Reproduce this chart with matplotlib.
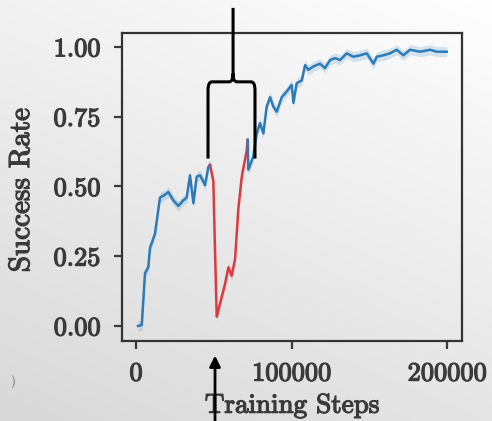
import numpy as np
import matplotlib
matplotlib.use("Agg")
import matplotlib.pyplot as plt
import matplotlib.patheffects as pe
from matplotlib.path import Path
from matplotlib.patches import PathPatch

# success rate before the perturbation (blue)
steps_a = [1300, 3700, 5800, 7900, 9000, 12200, 15400, 18600, 20800, 24000, 27200,
           30400, 32600, 34700, 36900, 39000, 41200, 44400, 46500, 47600]
rate_a = [0.0, 0.003, 0.19, 0.21, 0.28, 0.33, 0.46, 0.47, 0.48, 0.45, 0.43,
          0.45, 0.46, 0.54, 0.44, 0.535, 0.54, 0.505, 0.57, 0.577]

# drop and recovery (red)
steps_b = [47600, 49700, 50800, 51900, 54000, 57200, 59400, 61500, 63700, 65800,
           68000, 71200, 71800]
rate_b = [0.577, 0.52, 0.27, 0.033, 0.08, 0.15, 0.21, 0.18, 0.24, 0.42,
          0.535, 0.63, 0.667]

# after recovery (blue)
steps_c = [71800, 72200, 75400, 77600, 79700, 81900, 84000, 86200, 88300, 90500, 93700,
           96900, 100100, 101200, 103300, 106600, 108700, 110800, 114000, 118300,
           121500, 124800, 128000, 131200, 135500, 139800, 144100, 148400, 152700,
           154800, 159000, 163300, 167600, 171900, 176200, 182600, 189100, 193400, 199800]
rate_c = [0.667, 0.56, 0.607, 0.69, 0.727, 0.69, 0.786, 0.82, 0.786, 0.768, 0.82,
          0.84, 0.864, 0.80, 0.87, 0.88, 0.935, 0.918, 0.93, 0.94,
          0.924, 0.953, 0.96, 0.953, 0.977, 0.965, 0.97, 0.977, 0.94,
          0.965, 0.97, 0.977, 0.99, 0.97, 0.99, 0.983, 0.99, 0.983, 0.983]

yticks = [0.0, 0.25, 0.5, 0.75, 1.0]
ytick_labels = ["0.00", "0.25", "0.50", "0.75", "1.00"]
xticks = [0, 100000, 200000]
xtick_labels = ["0", "100000", "200000"]

# brace over the drop: left, centre, right x; leg bottom, bar, tip y
brace_x = [46300, 62400, 76500]
brace_y = [0.60, 0.875, 1.14]
arrow_x = 50800

plt.rcParams["font.family"] = "serif"
plt.rcParams["font.serif"] = ["cmr10", "DejaVu Serif"]
plt.rcParams["axes.formatter.use_mathtext"] = True

blue = "#2b7bb9"
red = "#dc3a40"
txt = "#3a3a3a"
thick = [pe.withStroke(linewidth=0.9, foreground=txt)]

fig = plt.figure(figsize=(4.92, 4.21), dpi=100)

# screenshot-like grey gradient behind everything
bg = fig.add_axes([0, 0, 1, 1], zorder=-10)
gx, gy = np.meshgrid(np.linspace(0, 1, 200), np.linspace(0, 1, 200))
shade = 0.995 - 0.05 * (1 - gx) - 0.10 * gy
bg.imshow(shade, cmap="gray", vmin=0, vmax=1, aspect="auto", extent=[0, 1, 0, 1])
bg.axis("off")

ax = fig.add_axes([0.248, 0.19, 0.691, 0.7316])
ax.set_facecolor("none")

for s, r, c in [(steps_a, rate_a, blue), (steps_b, rate_b, red), (steps_c, rate_c, blue)]:
    s = np.array(s)
    r = np.array(r)
    ax.fill_between(s, r - 0.018, r + 0.018, color=c, alpha=0.18, lw=0)
    ax.plot(s, r, color=c, lw=1.8)

ax.set_xlim(-9000, 209600)
ax.set_ylim(-0.054, 1.05)
ax.set_xticks(xticks)
ax.set_xticklabels(xtick_labels)
ax.set_yticks(yticks)
ax.set_yticklabels(ytick_labels)
ax.tick_params(labelsize=19, length=6, width=1.6, colors=txt)
ax.tick_params(axis="x", pad=9)
ax.tick_params(axis="y", pad=9.5)
for lab in ax.get_xticklabels() + ax.get_yticklabels():
    lab.set_path_effects(thick)
for sp in ax.spines.values():
    sp.set_linewidth(1.6)
    sp.set_color("#333333")
ax.set_xlabel("Training Steps", fontsize=19.5, color=txt, labelpad=6, path_effects=thick)
ax.set_ylabel("Success Rate", fontsize=21, color=txt, path_effects=thick)
ax.yaxis.set_label_coords(-0.256, 0.49)

# curly brace
xl, xm, xr = brace_x
yb, yh, yt = brace_y
dx = 2500
dy = 0.03
verts = [(xl, yb), (xl, yh - dy), (xl, yh), (xl + dx, yh), (xm - dx, yh),
         (xm, yh), (xm, yh + dy), (xm, yt),
         (xm, yh + dy), (xm, yh), (xm + dx, yh), (xr - dx, yh),
         (xr, yh), (xr, yh - dy), (xr, yb)]
codes = [Path.MOVETO, Path.LINETO, Path.CURVE3, Path.CURVE3, Path.LINETO,
         Path.CURVE3, Path.CURVE3, Path.LINETO,
         Path.MOVETO, Path.CURVE3, Path.CURVE3, Path.LINETO,
         Path.CURVE3, Path.CURVE3, Path.LINETO]
ax.add_patch(PathPatch(Path(verts, codes), fill=False, lw=2.2, color="black",
                       clip_on=False, zorder=5))

# arrow under the axis
ax.annotate("", xy=(arrow_x, 0.162), xytext=(arrow_x, -0.02),
            xycoords=("data", "figure fraction"), textcoords=("data", "figure fraction"),
            arrowprops=dict(arrowstyle="-|>", lw=2, color="black", mutation_scale=16),
            annotation_clip=False)

fig.text(0.025, 0.095, ")", fontsize=9, color="#555555", ha="center", va="center")

fig.savefig("out.png", dpi=100)
